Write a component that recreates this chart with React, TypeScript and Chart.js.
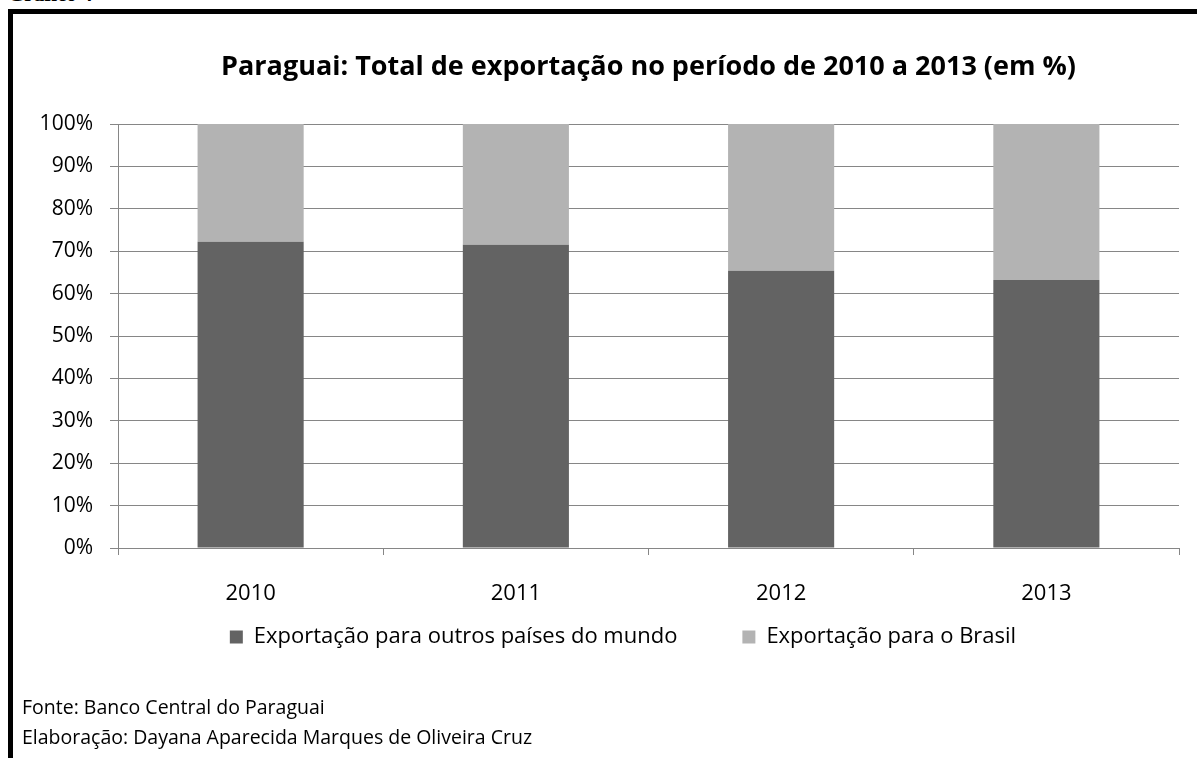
import React, { useEffect, useRef } from "react";
import { Chart, registerables } from "chart.js";

Chart.register(...registerables);

const categories = ["2010", "2011", "2012", "2013"];
const outrosPaises = [72.2, 71.5, 65.4, 63.2];
const brasil = [27.8, 28.5, 34.6, 36.8];
const yTicks = [0, 10, 20, 30, 40, 50, 60, 70, 80, 90, 100];

const titleText = "Paraguai: Total de exportação no período de 2010 a 2013 (em %)";
const seriesNames = ["Exportação para outros países do mundo", "Exportação para o Brasil"];
const fonteText = "Fonte: Banco Central do Paraguai";
const elaboracaoText = "Elaboração: Dayana Aparecida Marques de Oliveira Cruz";

const FONT = "'Open Sans', sans-serif";
const GRID = "#868686";

const legendShift = {
  id: "legendShift",
  afterLayout(chart: any) {
    const l = chart.legend;
    if (!l) return;
    l.left += 67;
    l.top -= 47;
    l.bottom -= 47;
  },
};

export default function App() {
  const ref = useRef<HTMLCanvasElement | null>(null);

  useEffect(() => {
    if (!ref.current) return;
    const chart = new Chart(ref.current, {
      type: "bar",
      data: {
        labels: categories,
        datasets: [
          {
            label: seriesNames[0],
            data: outrosPaises,
            backgroundColor: "#636363",
            borderWidth: 0,
            barPercentage: 0.4,
            categoryPercentage: 1,
          },
          {
            label: seriesNames[1],
            data: brasil,
            backgroundColor: "#b3b3b3",
            borderWidth: 0,
            barPercentage: 0.4,
            categoryPercentage: 1,
          },
        ],
      },
      plugins: [legendShift],
      options: {
        animation: false,
        responsive: false,
        devicePixelRatio: 1,
        layout: { padding: { left: 0, right: 18, top: 0, bottom: 53 } },
        plugins: {
          title: {
            display: true,
            text: titleText,
            fullSize: false,
            color: "#000",
            font: { family: FONT, size: 27, weight: "bold" },
            padding: { top: 51, bottom: 40.6 },
          },
          legend: {
            position: "bottom",
            labels: {
              color: "#000",
              font: { family: FONT, size: 22 },
              boxWidth: 13,
              boxHeight: 13,
              padding: 65,
            },
          },
          tooltip: { enabled: false },
        },
        scales: {
          x: {
            stacked: true,
            afterFit: (s: any) => {
              s.height = 60;
            },
            grid: {
              offset: true,
              drawOnChartArea: false,
              drawTicks: true,
              tickLength: 7,
              color: GRID,
            },
            border: { color: GRID, width: 1 },
            ticks: {
              color: "#000",
              font: { family: FONT, size: 22 },
              padding: 26,
              maxRotation: 0,
            },
          },
          y: {
            stacked: true,
            min: 0,
            max: 100,
            afterFit: (s: any) => {
              s.width = 118;
            },
            afterBuildTicks: (s: any) => {
              s.ticks = yTicks.map((v) => ({ value: v }));
            },
            grid: { color: GRID, lineWidth: 1, tickLength: 8 },
            border: { color: GRID, width: 1 },
            ticks: {
              color: "#000",
              font: { family: FONT, size: 21 },
              padding: 17,
              callback: (v: any) => v + "%",
            },
          },
        },
      },
    });
    return () => chart.destroy();
  }, []);

  return (
    <div style={{ position: "absolute", left: 0, top: 0, width: 1197, height: 758, overflow: "hidden", background: "#fff" }}>
      <div
        style={{
          position: "absolute",
          left: 8,
          top: -16,
          fontFamily: "'Liberation Serif', serif",
          fontWeight: "bold",
          fontSize: 21,
          lineHeight: "21px",
          color: "#000",
        }}
      >
        Gráfico 4
      </div>
      <div
        style={{
          position: "absolute",
          left: 8,
          top: 9,
          width: 1200,
          height: 760,
          borderLeft: "5px solid #000",
          borderTop: "5px solid #000",
        }}
      />
      <canvas ref={ref} width={1197} height={758} style={{ position: "absolute", left: 0, top: 0, width: 1197, height: 758 }} />
      <div
        style={{
          position: "absolute",
          left: 22,
          top: 692,
          fontFamily: FONT,
          fontSize: 19.5,
          lineHeight: "30px",
          color: "#000",
          whiteSpace: "nowrap",
        }}
      >
        <div>{fonteText}</div>
        <div>{elaboracaoText}</div>
      </div>
    </div>
  );
}
